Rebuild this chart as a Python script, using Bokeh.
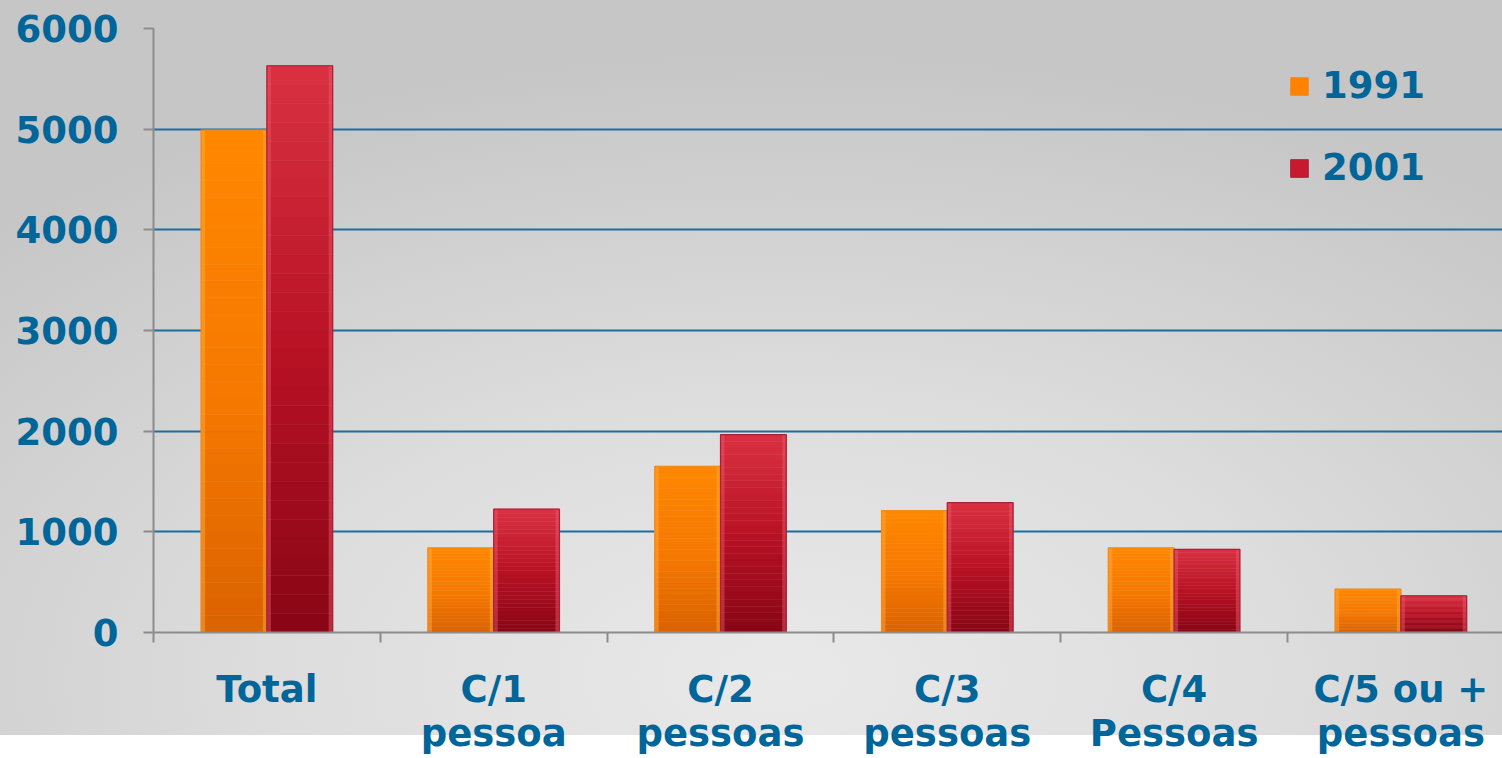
from bokeh.plotting import figure
from bokeh.layouts import column
from bokeh.models import Range1d, FixedTicker, Legend, LegendItem, ColumnDataSource
from bokeh.core.properties import value
from bokeh.embed import file_html
from bokeh.resources import INLINE

# ---- data ----
categories = ["Total", "C/1\npessoa", "C/2\npessoas", "C/3\npessoas", "C/4\nPessoas", "C/5 ou +\npessoas"]
series = ["1991", "2001"]
v1991 = [4990, 840, 1650, 1210, 840, 430]
v2001 = [5630, 1225, 1965, 1290, 825, 365]
y_ticks = [0, 1000, 2000, 3000, 4000, 5000, 6000]

# ---- style ----
FONT = "DejaVu Sans"
TXT = "#00669A"
GRID = "#1D6E9E"
AXIS = "#8C8C8C"
orange_stops = [(0.0, "#DA6200"), (0.45, "#F57800"), (1.0, "#FF8700")]
red_stops = [(0.0, "#880616"), (0.5, "#B81224"), (1.0, "#D93142")]
orange_edge = "#F28A1E"
red_edge = "#A8203A"
orange_hi = "#FFB040"
red_hi = "#F05A6A"

def hex2rgb(h):
    h = h.lstrip("#")
    return [int(h[i:i + 2], 16) for i in (0, 2, 4)]

def interp(stops, t):
    for (t0, c0), (t1, c1) in zip(stops[:-1], stops[1:]):
        if t <= t1:
            f = (t - t0) / (t1 - t0) if t1 > t0 else 0
            a, b = hex2rgb(c0), hex2rgb(c1)
            return "#%02x%02x%02x" % tuple(int(round(a[k] + (b[k] - a[k]) * f)) for k in range(3))
    return stops[-1][1]

W, H = 1502, 758
H1 = 660            # main chart height
H2 = H - H1         # label strip height
LEFT, TOP = 153, 28
FRAME_BOTTOM = 632
n_cat = len(categories)
cat_w = 226.8
x_end = (W - LEFT) / cat_w
bar_w = 0.29
edge_w = 4 / cat_w
offsets = [-bar_w / 2, bar_w / 2]
x_range = Range1d(0, x_end)

p = figure(width=W, height=H1, output_backend="svg", toolbar_location=None,
           x_range=x_range, y_range=Range1d(0, 6000),
           min_border_left=LEFT, min_border_right=0, min_border_top=TOP,
           min_border_bottom=H1 - FRAME_BOTTOM)
p.border_fill_alpha = 0
p.background_fill_alpha = 0
p.outline_line_color = None

# gradient bars with light bevel edges
N = 30
for s_i, (vals, stops, edge, hi) in enumerate([(v1991, orange_stops, orange_edge, orange_hi),
                                                (v2001, red_stops, red_edge, red_hi)]):
    xs, bots, tops, cols = [], [], [], []
    for c_i, v in enumerate(vals):
        for j in range(N):
            xs.append(c_i + 0.5 + offsets[s_i])
            bots.append(v * j / N)
            tops.append(v * (j + 1) / N)
            cols.append(interp(stops, (j + 0.5) / N))
    src = ColumnDataSource(dict(x=xs, bottom=bots, top=tops, color=cols))
    p.vbar(x="x", bottom="bottom", top="top", width=bar_w, source=src,
           fill_color="color", line_color="color", line_width=0.5)
    centres_s = [c + 0.5 + offsets[s_i] for c in range(n_cat)]
    ex = [cx - bar_w / 2 + edge_w / 2 for cx in centres_s] + [cx + bar_w / 2 - edge_w / 2 for cx in centres_s]
    p.vbar(x=ex, top=vals + vals, width=edge_w, fill_color=hi, fill_alpha=0.45, line_color=None)
    p.vbar(x=centres_s, top=vals, width=bar_w, fill_alpha=0, line_color=edge, line_width=1.2)

# legend proxies
proxies = []
for col, edge in [("#FF8200", orange_edge), ("#C81A2E", red_edge)]:
    proxies.append(p.vbar(x=[0], top=[0], width=0, fill_color=col, line_color=edge))

legend = Legend(items=[LegendItem(label=series[0], renderers=[proxies[0]]),
                       LegendItem(label=series[1], renderers=[proxies[1]])],
                location=(1135, 443))
legend.label_text_font = FONT
legend.label_text_font_style = "bold"
legend.label_text_font_size = "37px"
legend.label_text_color = TXT
legend.glyph_width = 22
legend.glyph_height = 22
legend.label_standoff = 12
legend.spacing = 39
legend.padding = 0
legend.margin = 0
legend.border_line_color = None
legend.background_fill_alpha = 0
p.add_layout(legend, "center")

# grid
p.xgrid.visible = False
p.ygrid.grid_line_color = GRID
p.ygrid.grid_line_width = 2
p.ygrid.ticker = FixedTicker(ticks=y_ticks[1:])

# y axis
p.yaxis.ticker = FixedTicker(ticks=y_ticks)
p.yaxis.axis_line_color = AXIS
p.yaxis.axis_line_width = 2
p.yaxis.major_tick_line_color = AXIS
p.yaxis.major_tick_line_width = 2
p.yaxis.major_tick_out = 10
p.yaxis.major_tick_in = 0
p.yaxis.minor_tick_line_color = None
p.yaxis.major_label_standoff = 25
p.yaxis.major_label_text_font = FONT
p.yaxis.major_label_text_font_style = "bold"
p.yaxis.major_label_text_font_size = "37px"
p.yaxis.major_label_text_color = TXT

# x axis: separator ticks at category boundaries
centres = [i + 0.5 for i in range(n_cat)]
p.xaxis.ticker = FixedTicker(ticks=list(range(n_cat)))
p.xaxis.major_label_text_alpha = 0
p.xaxis.major_label_text_font_size = "1px"
p.xaxis.major_label_standoff = 0
p.xaxis.axis_line_color = AXIS
p.xaxis.axis_line_width = 2
p.xaxis.major_tick_out = 10
p.xaxis.major_tick_in = 0
p.xaxis.major_tick_line_color = AXIS
p.xaxis.major_tick_line_width = 2
p.xaxis.minor_tick_line_color = None

# category labels strip sharing the x range (y measured downward in px)
p2 = figure(width=W, height=H2, output_backend="svg", toolbar_location=None,
            x_range=x_range, y_range=Range1d(H2, 0),
            min_border_left=LEFT, min_border_right=0, min_border_top=0, min_border_bottom=0)
p2.axis.visible = False
p2.grid.visible = False
p2.outline_line_color = None
p2.border_fill_alpha = 0
p2.background_fill_alpha = 0
lab_src = ColumnDataSource(dict(x=centres, y=[7] * n_cat, text=categories))
p2.text(x="x", y="y", text="text", source=lab_src,
        text_align="center", text_baseline="top",
        text_font=value(FONT), text_font_style="bold", text_font_size="37px",
        text_color=TXT, text_line_height=1.04)

layout = column(p, p2, spacing=0)
layout.styles = {"background": "radial-gradient(ellipse 75% 85% at 52% 92%, #e9e9e9 0%, #dddddd 45%, #c6c6c6 100%) no-repeat 0 0 / 100% 735px, #ffffff"}

open("out.html", "w").write(file_html(layout, INLINE))
